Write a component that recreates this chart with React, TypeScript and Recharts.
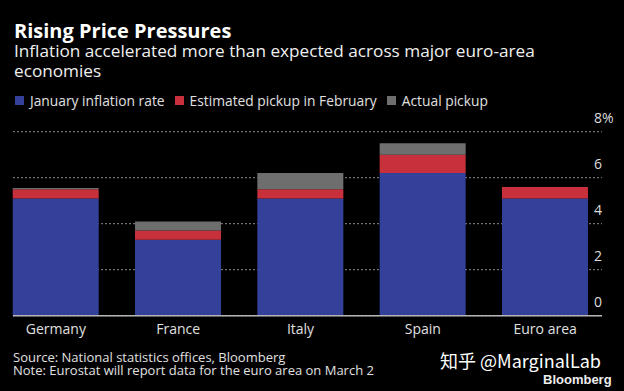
import React from "react";
import { BarChart, Bar, XAxis, YAxis, CartesianGrid } from "recharts";

const COUNTRIES = ["Germany", "France", "Italy", "Spain", "Euro area"];
const JANUARY = [5.1, 3.3, 5.1, 6.2, 5.1];
const ESTIMATED = [0.4, 0.4, 0.4, 0.8, 0.5];
const ACTUAL = [0.05, 0.4, 0.7, 0.5, 0];
const Y_TICKS = [0, 2, 4, 6, 8];

const SERIES_NAMES = ["January inflation rate", "Estimated pickup in February", "Actual pickup"];
const COLORS = ["#33419a", "#c8303c", "#6e6e6e"];

const data = COUNTRIES.map((name, i) => ({
  name,
  january: JANUARY[i],
  estimated: ESTIMATED[i],
  actual: ACTUAL[i],
}));

const FONT = "'Open Sans', 'Noto Sans', sans-serif";

function YTick(props: any) {
  const { x, y, payload } = props;
  const label = payload.value === 8 ? "8%" : String(payload.value);
  return (
    <text x={x - 10} y={y - 9} fill="#dddddd" fontSize={14} fontFamily={FONT} textAnchor="start">
      {label}
    </text>
  );
}

export default function App() {
  return (
    <div
      style={{
        position: "absolute",
        left: 0,
        top: 0,
        width: 624,
        height: 391,
        background: "#000",
        fontFamily: FONT,
        color: "#e6e6e6",
        overflow: "hidden",
      }}
    >
      <BarChart
        width={624}
        height={391}
        data={data}
        margin={{ top: 131.7, right: 0, bottom: 45.3, left: 13 }}
        barSize={86}
      >
        <CartesianGrid vertical={false} stroke="#8a8a8a" strokeDasharray="2 2" />
        <XAxis
          dataKey="name"
          padding={{ left: -18.3, right: -4.3 }}
          height={30}
          tickLine={false}
          tickSize={0}
          tickMargin={8}
          axisLine={{ stroke: "#b5b5b5", strokeWidth: 1.5 }}
          tick={{ fill: "#e0e0e0", fontSize: 14, fontFamily: FONT }}
          interval={0}
        />
        <YAxis
          orientation="right"
          width={22}
          domain={[0, 8]}
          ticks={Y_TICKS}
          axisLine={false}
          tickLine={false}
          tickSize={0}
          tick={<YTick />}
        />
        <Bar dataKey="january" stackId="a" fill={COLORS[0]} isAnimationActive={false} />
        <Bar dataKey="estimated" stackId="a" fill={COLORS[1]} isAnimationActive={false} />
        <Bar dataKey="actual" stackId="a" fill={COLORS[2]} isAnimationActive={false} />
      </BarChart>

      <div style={{ position: "absolute", left: 14, top: 21, fontSize: 20, lineHeight: "20px", fontWeight: 700, color: "#fff", whiteSpace: "nowrap" }}>
        Rising Price Pressures
      </div>
      <div style={{ position: "absolute", left: 14, top: 41, width: 580, fontSize: 17.2, lineHeight: "20px", color: "#f0f0f0" }}>
        Inflation accelerated more than expected across major euro-area<br />economies
      </div>
      <div style={{ position: "absolute", left: 15, top: 91, display: "flex", fontSize: 13.8, color: "#e0e0e0", whiteSpace: "nowrap" }}>
        {SERIES_NAMES.map((s, i) => (
          <div key={s} style={{ display: "flex", alignItems: "center", marginRight: 10 }}>
            <span style={{ width: 9, height: 9, background: COLORS[i], display: "inline-block", marginRight: 6 }} />
            {s}
          </div>
        ))}
      </div>
      <div style={{ position: "absolute", left: 13, top: 351, fontSize: 13, lineHeight: "12.5px", color: "#e0e0e0", whiteSpace: "nowrap" }}>
        <div>Source: National statistics offices, Bloomberg</div>
        <div>Note: Eurostat will report data for the euro area on March 2</div>
      </div>
      <div style={{ position: "absolute", left: 440, top: 347, fontSize: 18, color: "#fff", whiteSpace: "nowrap", fontFamily: "'Noto Sans CJK SC', sans-serif" }}>
        知乎 @MarginalLab
      </div>
      <div style={{ position: "absolute", left: 543, top: 372, fontSize: 13, fontWeight: 700, color: "#eee", fontFamily: "'Liberation Sans', Arial, sans-serif" }}>
        Bloomberg
      </div>
    </div>
  );
}
